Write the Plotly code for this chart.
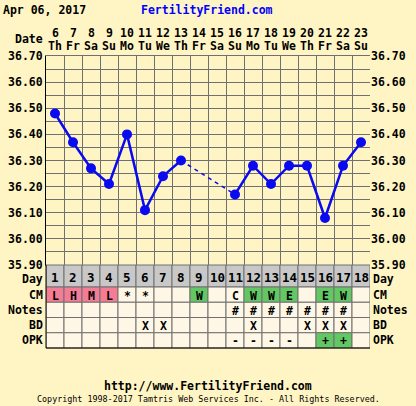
import plotly.graph_objects as go

# ---- chart data ----
chart_date = "Apr 06, 2017"
site_name = "FertilityFriend.com"
cycle_days = list(range(1, 19))
month_days = [6, 7, 8, 9, 10, 11, 12, 13, 14, 15, 16, 17, 18, 19, 20, 21, 22, 23]
weekdays = ["Th", "Fr", "Sa", "Su", "Mo", "Tu", "We", "Th", "Fr",
            "Sa", "Su", "Mo", "Tu", "We", "Th", "Fr", "Sa", "Su"]
temps = [36.48, 36.37, 36.27, 36.21, 36.40, 36.11, 36.24, 36.30, None,
         None, 36.17, 36.28, 36.21, 36.28, 36.28, 36.08, 36.28, 36.37]
cm = ["L", "H", "M", "L", "*", "*", "", "", "W",
      "", "C", "W", "W", "E", "", "E", "W", ""]
notes = ["", "", "", "", "", "", "", "", "",
         "", "#", "#", "#", "#", "#", "#", "#", ""]
bd = ["", "", "", "", "", "X", "X", "", "",
      "", "", "X", "", "", "X", "X", "X", ""]
opk = ["", "", "", "", "", "", "", "", "",
       "", "-", "-", "-", "-", "", "+", "+", ""]
temp_ticks = [35.90, 35.95, 36.00, 36.05, 36.10, 36.15, 36.20, 36.25, 36.30,
              36.35, 36.40, 36.45, 36.50, 36.55, 36.60, 36.65, 36.70]
temp_labels = ["35.90", "", "36.00", "", "36.10", "", "36.20", "", "36.30",
               "", "36.40", "", "36.50", "", "36.60", "", "36.70"]

# ---- styling ----
W, H = 416, 406
BG = "#FFF5C4"
CELL = "#FFF7E6"
DAYROW = "#C8C8C8"
PINK = "#F47C94"
GREEN = "#63C863"
GRID = "#707070"
BLUE = "#0A0AF0"
FONT = "DejaVu Sans Mono"
FS = 11.5

def px(x):
    return x / W

def py(y):
    return 1 - y / H

left, right = 46, 370
top, temp_bottom = 56, 265
day_row_h = 22
row_h = 15.25

fig = go.Figure()

# dashed segments across missing readings
valid = [i for i, t in enumerate(temps) if t is not None]
for a, b in zip(valid, valid[1:]):
    if b - a > 1:
        fig.add_trace(go.Scatter(
            x=[cycle_days[a], cycle_days[b]], y=[temps[a], temps[b]],
            mode="lines", line=dict(color=BLUE, width=1.5, dash="4px,4px"),
            hoverinfo="skip", showlegend=False))

fig.add_trace(go.Scatter(
    x=cycle_days, y=temps, mode="lines+markers", connectgaps=False,
    line=dict(color=BLUE, width=2.5),
    marker=dict(color=BLUE, size=10), showlegend=False))

# right-side copy of the temperature labels
fig.add_trace(go.Scatter(x=[None], y=[None], yaxis="y2", showlegend=False))

tick_font = dict(family=FONT, size=FS, color="black", weight="bold")
fig.update_layout(
    width=W, height=H, margin=dict(l=0, r=0, t=0, b=0, pad=0, autoexpand=False),
    paper_bgcolor=BG, plot_bgcolor=BG,
    xaxis=dict(domain=[px(left), px(right)], range=[0.5, 18.5], automargin=False,
               tickvals=[d + 0.5 for d in [0] + cycle_days],
               showticklabels=False, ticks="", showgrid=True,
               gridcolor=GRID, gridwidth=1, zeroline=False,
               showline=True, linecolor=GRID, mirror=True),
    yaxis=dict(domain=[py(temp_bottom), py(top)], range=[35.90, 36.70], automargin=False,
               tickvals=temp_ticks, ticktext=temp_labels, tickfont=tick_font,
               showgrid=True, gridcolor=GRID, gridwidth=1, zeroline=False,
               showline=True, linecolor="black", linewidth=1, ticks=""),
    yaxis2=dict(domain=[py(temp_bottom), py(top)], range=[35.90, 36.70], automargin=False,
                overlaying="y", side="right", anchor="x",
                tickvals=temp_ticks, ticktext=temp_labels, tickfont=tick_font,
                showgrid=False, zeroline=False, ticks="", showline=False),
)

shapes = []
annotations = []

def label(x, y, text, xanchor="center", size=FS, color="black", xref="paper", bold=True):
    annotations.append(dict(
        x=x, y=py(y), xref=xref, yref="paper", text=text, showarrow=False,
        xanchor=xanchor, yanchor="middle", borderpad=0,
        font=dict(family=FONT, size=size, color=color,
                  weight="bold" if bold else "normal")))

# header
label(px(2), 10, chart_date, xanchor="left")
label(px(140), 10, site_name, xanchor="left", color="#0000FF")
label(px(44), 39, "Date", xanchor="right")
for d, md, wd in zip(cycle_days, month_days, weekdays):
    label(d, 33, str(md), xref="x")
    label(d, 46, wd, xref="x")

# observation table
rows = [("Day", [str(d) for d in cycle_days], day_row_h),
        ("CM", cm, row_h), ("Notes", notes, row_h),
        ("BD", bd, row_h), ("OPK", opk, row_h)]
y0 = temp_bottom
for name, values, h in rows:
    y1 = y0 + h
    for d, v in zip(cycle_days, values):
        if name == "Day":
            fill = DAYROW
        elif name == "CM" and v in ("L", "H", "M"):
            fill = PINK
        elif (name == "CM" and v in ("W", "E")) or (name == "OPK" and v == "+"):
            fill = GREEN
        else:
            fill = CELL
        shapes.append(dict(type="rect", xref="x", yref="paper",
                           x0=d - 0.5, x1=d + 0.5, y0=py(y1), y1=py(y0),
                           fillcolor=fill, line=dict(color=GRID, width=1),
                           layer="above"))
        if v:
            label(d, (y0 + y1) / 2 + 1, v, xref="x",
                  size=12.5 if name == "Day" else FS)
    side_y = (y0 + y1) / 2 + (3 if name == "Day" else 0)
    label(px(44), side_y, name, xanchor="right")
    label(px(372), side_y, name, xanchor="left")
    y0 = y1
table_bottom = y0

# table outer edges
shapes.append(dict(type="line", xref="paper", yref="paper",
                   x0=px(left), x1=px(left), y0=py(table_bottom), y1=py(temp_bottom),
                   line=dict(color="black", width=1), layer="above"))
shapes.append(dict(type="line", xref="paper", yref="paper",
                   x0=px(left), x1=px(right), y0=py(table_bottom), y1=py(table_bottom),
                   line=dict(color="black", width=1), layer="above"))

# footer
label(0.5, 386, "http://www.FertilityFriend.com")
label(0.5, 399, "Copyright 1998-2017 Tamtris Web Services Inc. - All Rights Reserved.",
      size=8.4, bold=False)

fig.update_layout(shapes=shapes, annotations=annotations)
fig.write_html("out.html")
